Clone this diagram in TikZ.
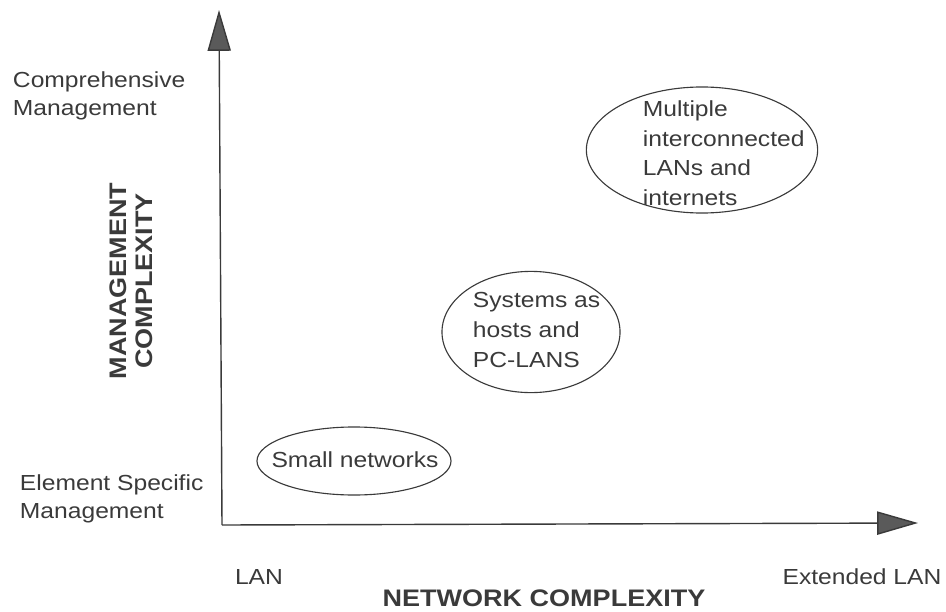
\documentclass[tikz,border=0pt]{standalone}
\usepackage{fontspec}
\setmainfont[FakeStretch=1.13]{Liberation Sans}
\usetikzlibrary{shapes.geometric,arrows.meta}
\definecolor{inkgray}{HTML}{3A3A3A}
\definecolor{tipgray}{HTML}{5A5A5A}

\begin{document}
\begin{tikzpicture}[x=0.025cm,y=-0.025cm,
  every node/.style={text=inkgray,font=\fontsize{15.5}{20}\selectfont},
  axis/.style={draw=inkgray,line width=1pt,-{Triangle[length=1.02cm,width=0.58cm,fill=tipgray]}},
  region/.style={ellipse,draw=inkgray,line width=0.8pt,inner sep=0pt},
  regiontext/.style={align=left,font=\fontsize{15.5}{21}\selectfont},
  axistitle/.style={font=\fontsize{17}{18.5}\selectfont\bfseries,align=center}]
          \useasboundingbox (0,0) rectangle (946,611);

          % axes
          \coordinate (origin) at (222,525);
          \coordinate (ytip) at (219,10);
          \coordinate (xtip) at (918,523);
          \draw[axis] (origin) -- (ytip);
          \draw[axis] (origin) -- (xtip);

          % regions
          \node[region,minimum width=5.78cm,minimum height=3.15cm] (multi) at (702,150) {};
          \node[regiontext,anchor=west] (multitext) at (638,153) {Multiple\\interconnected\\LANs and\\internets};
          \node[region,minimum width=4.45cm,minimum height=3.03cm] (systems) at (531,332) {};
          \node[regiontext,anchor=west] (systemstext) at (468,330) {Systems as\\hosts and\\PC-LANS};
          \node[region,minimum width=4.85cm,minimum height=1.7cm] (small) at (354,461) {};
          \node[regiontext] (smalltext) at (355,460) {Small networks};

          % axis labels
          \node[align=left,anchor=west] (compmgmt) at (8,96) {Comprehensive\\Management};
          \node[align=left,anchor=west] (elemmgmt) at (15,499) {Element Specific\\Management};
          \node (lanlabel) at (259,577) {LAN};
          \node (extlabel) at (862,577) {Extended LAN};
          \node[axistitle] (xtitle) at (544,598) {NETWORK COMPLEXITY};
          \node[axistitle,rotate=90] (ytitle) at (131,281) {MANAGEMENT\\COMPLEXITY};
        \end{tikzpicture}
\end{document}
